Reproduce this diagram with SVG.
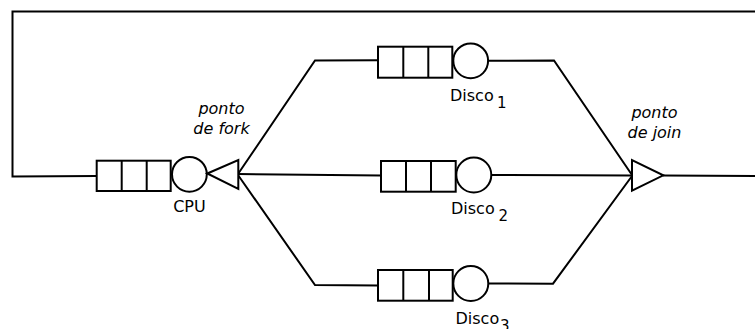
<svg xmlns="http://www.w3.org/2000/svg" width="755" height="329" viewBox="0 0 755 329">
  <defs>
    <style>
      .wire { fill: none; stroke: #000; stroke-width: 2; stroke-linejoin: miter; }
      .box { fill: #fff; stroke: #000; stroke-width: 2; }
      .sep { stroke: #000; stroke-width: 2; }
      .lbl { font-family: "DejaVu Sans", sans-serif; font-size: 16px; fill: #000; }
      .sub { font-family: "DejaVu Sans", sans-serif; font-size: 15px; fill: #000; }
      .note { font-family: "DejaVu Sans", sans-serif; font-size: 16px; font-style: italic; fill: #000; text-anchor: middle; }
    </style>
  </defs>
  <rect width="755" height="329" fill="#fff"/>

  <!-- connectors -->
  <g id="connectors" class="wire">
    <!-- feedback loop back to the CPU -->
    <path d="M755,11.5 L12.5,11.5 L12.5,176.5 L97,176"/>
    <!-- fork branches -->
    <path d="M238,174 L315,60.5 L378,60.3"/>
    <path d="M238,174 L381,175.5"/>
    <path d="M238,175 L315,285 L378,285.5"/>
    <!-- join branches -->
    <path d="M488,60.7 L554,60.5 L632,175"/>
    <path d="M491.5,175 L632,175.5"/>
    <path d="M488.5,283.5 L553,283.7 L632,176"/>
    <!-- join output -->
    <path d="M663,175.5 L755,176"/>
  </g>

  <!-- CPU station -->
  <g id="cpu">
    <rect class="box" x="96.7" y="160.7" width="74" height="30.3"/>
    <line class="sep" x1="121.7" y1="160.7" x2="121.7" y2="191"/>
    <line class="sep" x1="146.7" y1="160.7" x2="146.7" y2="191"/>
    <circle class="box" cx="189.4" cy="174.3" r="17.4"/>
    <text class="lbl" x="189.4" y="211.5" text-anchor="middle">CPU</text>
  </g>

  <!-- fork point -->
  <g id="fork">
    <polygon class="box" points="207.3,173.5 238.3,160 238.3,189"/>
    <text class="note" x="221.5" y="113.5">ponto</text>
    <text class="note" x="221.5" y="133.5">de fork</text>
  </g>

  <!-- Disco 1 -->
  <g id="disco1">
    <rect class="box" x="378" y="46.7" width="74.3" height="31"/>
    <line class="sep" x1="403.3" y1="46.7" x2="403.3" y2="77.7"/>
    <line class="sep" x1="428.3" y1="46.7" x2="428.3" y2="77.7"/>
    <circle class="box" cx="470.7" cy="60.8" r="17.4"/>
    <text class="lbl" x="450" y="101">Disco</text>
    <text class="sub" x="497" y="107.5">1</text>
  </g>

  <!-- Disco 2 -->
  <g id="disco2">
    <rect class="box" x="381" y="161" width="74.7" height="30.7"/>
    <line class="sep" x1="406" y1="161" x2="406" y2="191.7"/>
    <line class="sep" x1="431" y1="161" x2="431" y2="191.7"/>
    <circle class="box" cx="473.8" cy="175" r="17.5"/>
    <text class="lbl" x="451" y="214">Disco</text>
    <text class="sub" x="498.5" y="220.5">2</text>
  </g>

  <!-- Disco 3 -->
  <g id="disco3">
    <rect class="box" x="378" y="270" width="74.7" height="30.7"/>
    <line class="sep" x1="403.3" y1="270" x2="403.3" y2="300.7"/>
    <line class="sep" x1="429" y1="270" x2="429" y2="300.7"/>
    <circle class="box" cx="470.8" cy="283.5" r="17.5"/>
    <text class="lbl" x="455.5" y="323.5">Disco</text>
    <text class="sub" x="500" y="331">3</text>
  </g>

  <!-- join point -->
  <g id="join">
    <polygon class="box" points="632,160 632,190.7 663.3,175.3"/>
    <text class="note" x="654.5" y="118">ponto</text>
    <text class="note" x="654.5" y="138">de join</text>
  </g>
</svg>
